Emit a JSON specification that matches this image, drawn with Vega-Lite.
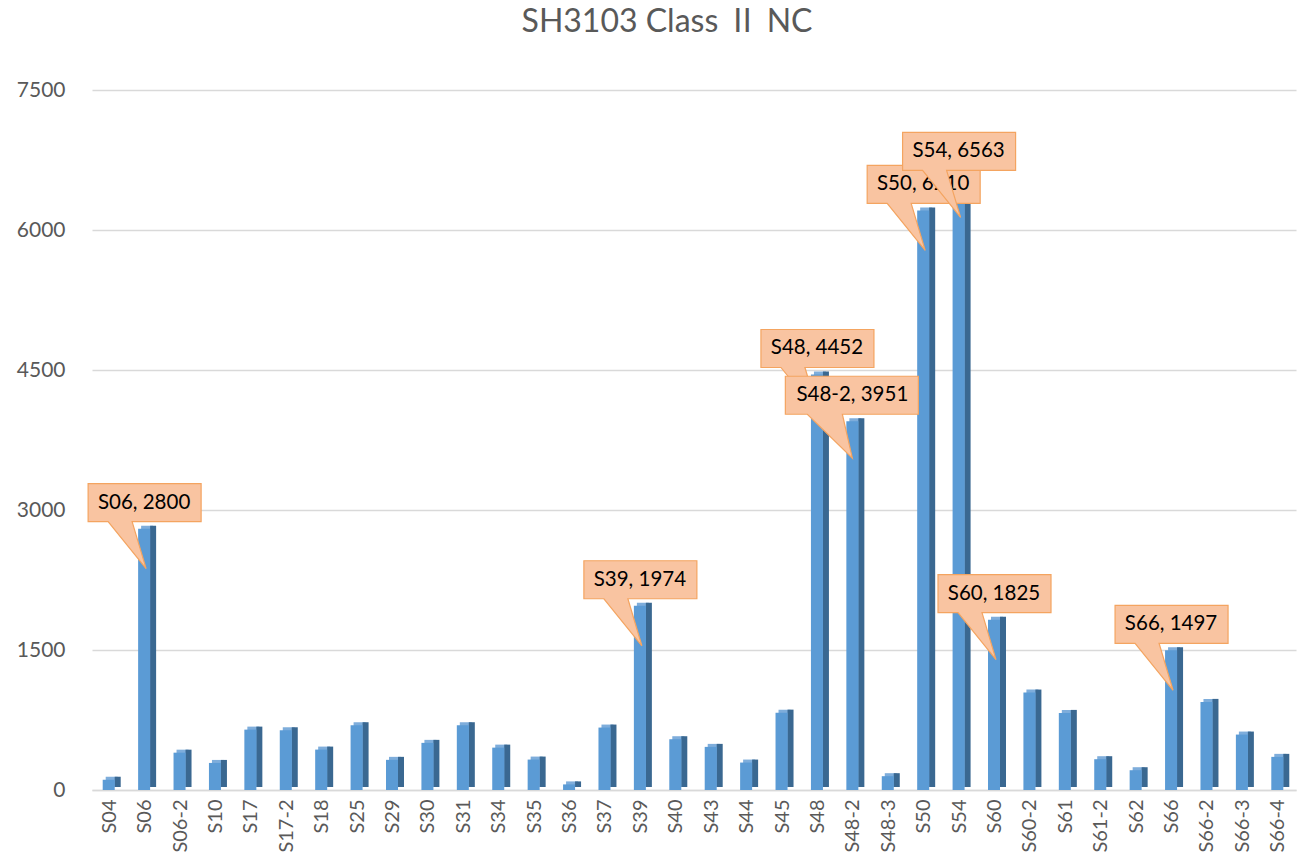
{
  "$schema": "https://vega.github.io/schema/vega-lite/v6.json",
  "autosize": "none",
  "width": 1204,
  "height": 700,
  "padding": {"left": 92, "top": 90, "right": 6, "bottom": 71},
  "background": "white",
  "config": {
    "font": "Lato",
    "view": {"stroke": null}
  },
  "title": {
    "text": "SH3103 Class Ⅱ NC",
    "font": "Lato, Noto Sans CJK SC",
    "fontSize": 32,
    "fontWeight": "normal",
    "color": "#595959",
    "anchor": "middle",
    "frame": "group",
    "offset": 40,
    "dx": -27
  },
  "data": {
    "values": [
      {"name": "S04", "value": 110},
      {"name": "S06", "value": 2800},
      {"name": "S06-2", "value": 400},
      {"name": "S10", "value": 290},
      {"name": "S17", "value": 647},
      {"name": "S17-2", "value": 640},
      {"name": "S18", "value": 433},
      {"name": "S25", "value": 694},
      {"name": "S29", "value": 323},
      {"name": "S30", "value": 505},
      {"name": "S31", "value": 694},
      {"name": "S34", "value": 454},
      {"name": "S35", "value": 326},
      {"name": "S36", "value": 60},
      {"name": "S37", "value": 669},
      {"name": "S39", "value": 1974},
      {"name": "S40", "value": 544},
      {"name": "S43", "value": 462},
      {"name": "S44", "value": 294},
      {"name": "S45", "value": 829},
      {"name": "S48", "value": 4452},
      {"name": "S48-2", "value": 3951},
      {"name": "S48-3", "value": 148},
      {"name": "S50", "value": 6210},
      {"name": "S54", "value": 6563},
      {"name": "S60", "value": 1825},
      {"name": "S60-2", "value": 1044},
      {"name": "S61", "value": 826},
      {"name": "S61-2", "value": 330},
      {"name": "S62", "value": 212},
      {"name": "S66", "value": 1497},
      {"name": "S66-2", "value": 944},
      {"name": "S66-3", "value": 594},
      {"name": "S66-4", "value": 355}
    ]
  },
  "encoding": {
    "x": {
      "field": "name",
      "type": "nominal",
      "sort": null,
      "scale": {"paddingInner": 0, "paddingOuter": 0},
      "axis": {
        "title": null,
        "labelAngle": -90,
        "labelAlign": "right",
        "labelBaseline": "middle",
        "labelFontSize": 20,
        "labelColor": "#595959",
        "labelPadding": 9,
        "ticks": false,
        "domain": true,
        "domainColor": "#D9D9D9",
        "domainWidth": 1.5,
        "grid": false
      }
    },
    "y": {
      "field": "value",
      "type": "quantitative",
      "scale": {"domain": [0, 7500], "nice": false},
      "axis": {
        "title": null,
        "values": [0, 1500, 3000, 4500, 6000, 7500],
        "format": "d",
        "labelFontSize": 21,
        "labelColor": "#595959",
        "labelPadding": 27,
        "ticks": false,
        "domain": false,
        "grid": true,
        "gridColor": "#D9D9D9",
        "gridWidth": 1.5
      }
    }
  },
  "layer": [
    {
      "mark": {"type": "bar", "width": 12, "xOffset": 2, "yOffset": -3, "color": "#7EADDB"}
    },
    {
      "mark": {"type": "bar", "width": 6, "xOffset": 8, "yOffset": -3, "color": "#3A6891"}
    },
    {
      "mark": {"type": "bar", "width": 12, "xOffset": -1, "color": "#5B9BD5"}
    },
    {
      "transform": [
        {"filter": {"field": "name", "oneOf": ["S06", "S39", "S48", "S50", "S60", "S66"]}}
      ],
      "layer": [
        {
          "mark": {"type": "point", "filled": true, "size": 4, "fill": "#F9C4A1", "stroke": "#F4A460", "strokeWidth": 1.2, "opacity": 1, "fillOpacity": 1, "shape": "M-57,-45L56,-45L56,-7L-13,-7L1,40L-37,-7L-57,-7Z"}
        },
        {
          "transform": [{"calculate": "datum.name + ', ' + datum.value", "as": "label"}],
          "mark": {"type": "text", "fontSize": 20.5, "color": "#000000", "align": "center", "baseline": "middle", "dy": -26, "dx": -1},
          "encoding": {"text": {"field": "label"}}
        }
      ]
    },
    {
      "transform": [
        {"filter": {"field": "name", "oneOf": ["S48-2", "S54"]}}
      ],
      "layer": [
        {
          "mark": {"type": "point", "filled": true, "size": 4, "fill": "#F9C4A1", "stroke": "#F4A460", "strokeWidth": 1.2, "opacity": 1, "fillOpacity": 1},
          "encoding": {
            "shape": {
              "condition": {"test": "datum.name === 'S48-2'", "value": "M-68,-45L65,-45L65,-7L-11,-7L-1,37L-46,-7L-68,-7Z"},
              "value": "M-57,-45L56,-45L56,-7L-13,-7L1,40L-37,-7L-57,-7Z"
            }
          }
        },
        {
          "transform": [{"calculate": "datum.name + ', ' + datum.value", "as": "label"}],
          "mark": {"type": "text", "fontSize": 20.5, "color": "#000000", "align": "center", "baseline": "middle", "dy": -26, "dx": -1},
          "encoding": {"text": {"field": "label"}}
        }
      ]
    }
  ]
}
